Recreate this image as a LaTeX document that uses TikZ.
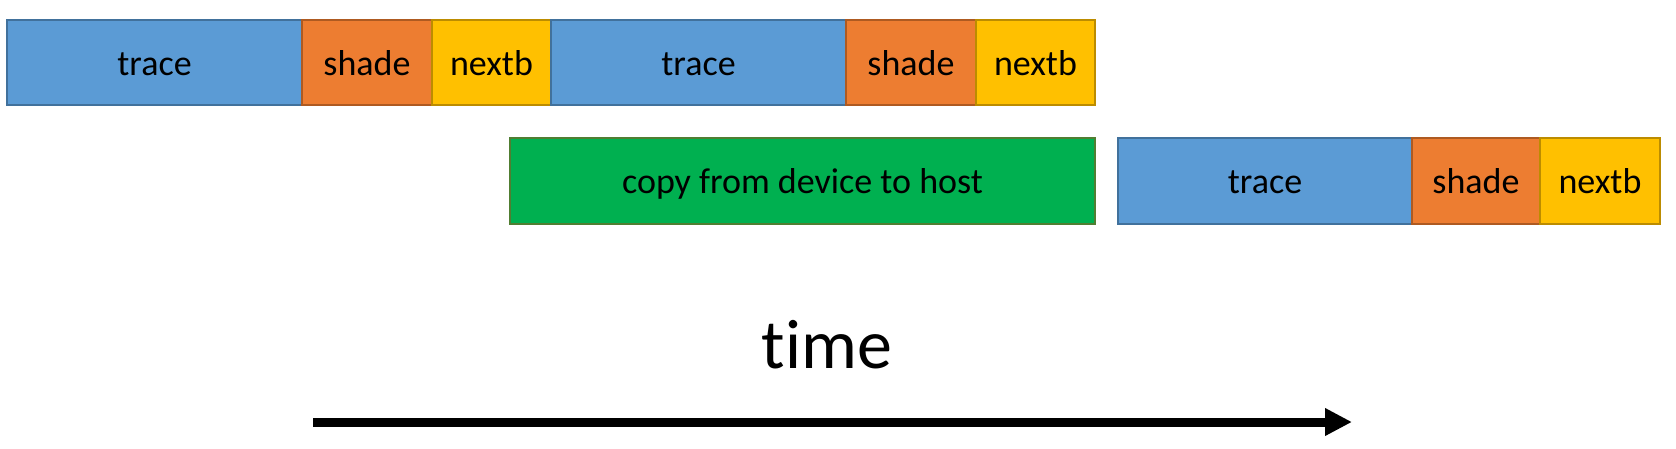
\documentclass[tikz,border=0pt]{standalone}
\usepackage{fontspec}
\setmainfont{Carlito}[Ligatures=NoCommon]
\usetikzlibrary{arrows.meta}
\definecolor{bluefill}{HTML}{5B9BD5}
\definecolor{blueline}{HTML}{41719C}
\definecolor{orangefill}{HTML}{ED7D31}
\definecolor{orangeline}{HTML}{AE5A21}
\definecolor{yellowfill}{HTML}{FFC000}
\definecolor{yellowline}{HTML}{BC8C00}
\definecolor{greenfill}{HTML}{00B050}
\definecolor{greenline}{HTML}{507E32}
\tikzset{
  box/.style={rectangle, line width=2pt, inner sep=0pt, outer sep=0pt,
    anchor=north west, text height=25pt, text depth=0pt,
    font=\fontsize{36pt}{42pt}\selectfont},
  r1/.style={minimum height=85pt},
  r2/.style={minimum height=86pt},
  tracebox/.style={box, draw=blueline, fill=bluefill},
  shadebox/.style={box, draw=orangeline, fill=orangefill},
  nextbox/.style={box, draw=yellowline, fill=yellowfill},
  copybox/.style={box, draw=greenline, fill=greenfill},
  timearrow/.style={line width=9pt, -{Triangle[length=27pt,width=26pt]}},
}
\begin{document}
\begin{tikzpicture}[x=1pt,y=-1pt]
\useasboundingbox (0,0) rectangle (1676,448);
% row 1
\node[tracebox, r1, minimum width=295pt] (t1) at (7,20) {trace};
\node[shadebox, r1, minimum width=130pt] (s1) at (302,20) {shade};
\node[nextbox, r1, minimum width=119pt] (n1) at (432,20) {nextb};
\node[tracebox, r1, minimum width=295pt] (t2) at (551,20) {trace};
\node[shadebox, r1, minimum width=130pt] (s2) at (846,20) {shade};
\node[nextbox, r1, minimum width=119pt] (n2) at (976,20) {nextb};
% row 2
\node[copybox, r2, minimum width=585pt] (cp) at (510,138) {copy from device to host};
\node[tracebox, r2, minimum width=294pt] (t3) at (1118,138) {trace};
\node[shadebox, r2, minimum width=128pt] (s3) at (1412,138) {shade};
\node[nextbox, r2, minimum width=120pt] (n3) at (1540,138) {nextb};
% time
\node[anchor=base, inner sep=0pt, font=\fontsize{70pt}{80pt}\selectfont] (time) at (827,368) {time};
\coordinate (a0) at (313,422);
\coordinate (a1) at (1352,422);
\draw[timearrow] (a0) -- (a1);
\end{tikzpicture}
\end{document}
